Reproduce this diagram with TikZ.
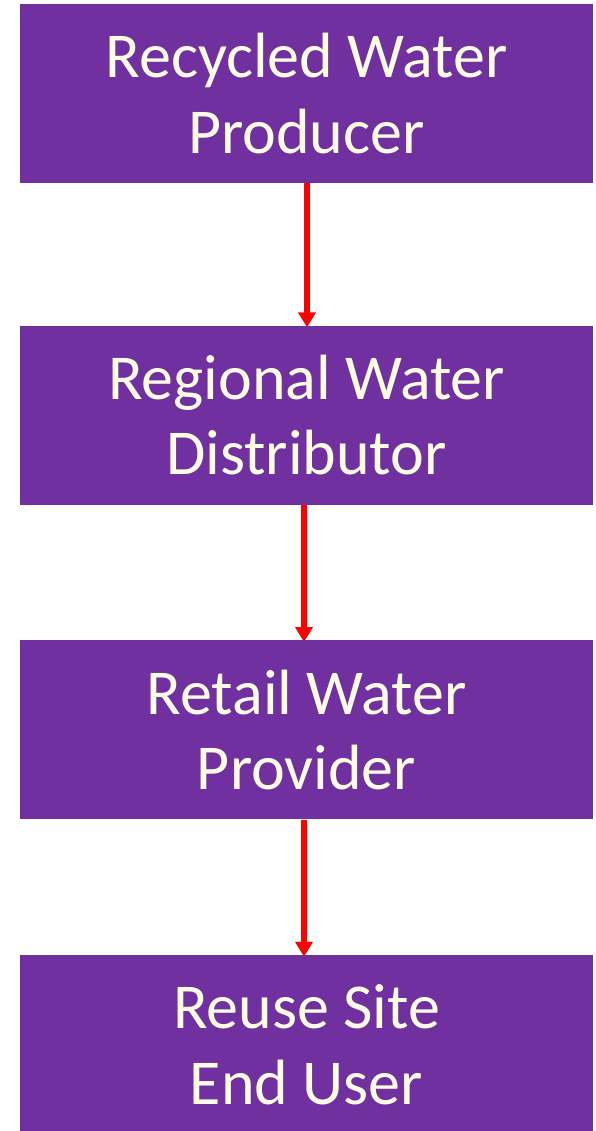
\documentclass[tikz,border=0pt]{standalone}
\usepackage{fontspec}
\setmainfont{Carlito}
\usepackage{xcolor}
\usepackage{tikz}
\usetikzlibrary{positioning,arrows.meta}

\definecolor{boxpurple}{HTML}{7030A0}
\definecolor{boxtext}{RGB}{255,252,230}
\definecolor{flowred}{RGB}{255,0,0}

\tikzset{
  stage/.style={fill=boxpurple, text=boxtext, align=center, inner sep=0pt,
    minimum width=11.46cm, minimum height=3.58cm,
    font=\fontsize{36.4}{43}\selectfont},
  flow/.style={-{Triangle[width=0.34cm,length=0.3cm]}, line width=0.11cm, flowred}
}

\begin{document}
\begin{tikzpicture}
\useasboundingbox (0,0) rectangle (11.92,-22.62);
% the four stages, top to bottom
\node[stage] (producer) at (6.13,-1.87) {Recycled Water\\Producer};
\node[stage, below=2.84cm of producer] (distributor) {Regional Water\\Distributor};
\node[stage, below=2.7cm of distributor] (retailer) {Retail Water\\Provider};
\node[stage, below=2.7cm of retailer] (enduser) {Reuse Site\\End User};
% red flow arrows between stages
\draw[flow] ([xshift=0.01cm]producer.south) -- ([xshift=0.01cm,yshift=-0.04cm]distributor.north);
\draw[flow] ([xshift=-0.05cm]distributor.south) -- ([xshift=-0.05cm,yshift=-0.04cm]retailer.north);
\draw[flow] ([xshift=-0.05cm]retailer.south) -- ([xshift=-0.05cm,yshift=-0.04cm]enduser.north);
\end{tikzpicture}
\end{document}
